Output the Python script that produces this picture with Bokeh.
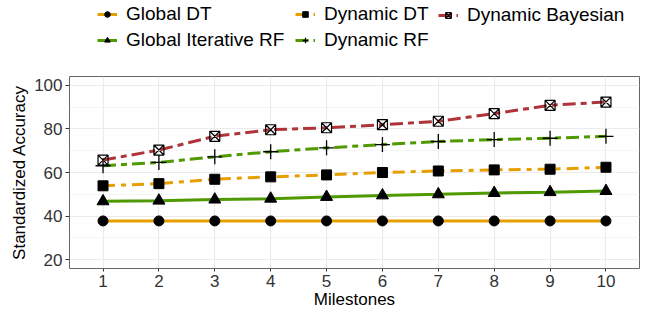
from bokeh.plotting import figure
from bokeh.models import Legend, LegendItem, FixedTicker
from bokeh.layouts import column
from bokeh.embed import file_html
from bokeh.resources import INLINE

milestones = [1, 2, 3, 4, 5, 6, 7, 8, 9, 10]
global_dt = [37.8, 37.8, 37.8, 37.8, 37.8, 37.8, 37.8, 37.8, 37.8, 37.8]
global_irf = [46.8, 47.1, 47.6, 48.0, 48.8, 49.5, 50.0, 50.6, 51.0, 51.5]
dynamic_dt = [53.9, 54.9, 56.9, 58.0, 58.9, 60.0, 60.7, 61.2, 61.5, 62.4]
dynamic_rf = [63.1, 64.6, 67.2, 69.5, 71.3, 72.8, 74.2, 75.1, 75.7, 76.6]
dynamic_bayes = [65.7, 70.3, 76.6, 79.6, 80.5, 81.9, 83.5, 87.0, 90.8, 92.3]
y_ticks = [20, 40, 60, 80, 100]
y_minor = [30, 50, 70, 90]

ORANGE = "#E69F00"
GREEN = "#4F9A00"
RED = "#AE3439"
FONT = "Liberation Sans"

series = [
    ("Global DT", global_dt, ORANGE, "solid", "circle", 10),
    ("Global Iterative RF", global_irf, GREEN, "solid", "triangle", 12),
    ("Dynamic DT", dynamic_dt, ORANGE, "12 6 5 6", "square", 10),
    ("Dynamic RF", dynamic_rf, GREEN, "13 5 6 5", "cross", 15),
    ("Dynamic Bayesian", dynamic_bayes, RED, "13 5 6 5", "square_x", 10),
]


def draw(fig, xs, ys, col, dash, marker, size):
    ln = fig.line(xs, ys, line_color=col, line_width=3, line_dash=dash)
    if marker == "cross":
        mk = fig.scatter(xs, ys, marker="cross", size=size, line_color="black", line_width=1.3)
    elif marker == "square_x":
        mk = fig.scatter(xs, ys, marker="square_x", size=size, line_color="black",
                         line_width=1.2, fill_color=None)
    else:
        mk = fig.scatter(xs, ys, marker=marker, size=size, line_color="black",
                         fill_color="black")
    return [ln, mk]


# ---------- main plot ----------
p = figure(width=654, height=256, x_range=(0.4, 10.6), y_range=(16, 104),
           output_backend="svg", toolbar_location=None,
           min_border_left=69, min_border_right=15, min_border_top=20, min_border_bottom=44)

p.background_fill_color = "white"
p.border_fill_color = "white"
p.outline_line_color = "#666666"
p.outline_line_width = 1

p.xaxis.ticker = milestones
p.yaxis.ticker = FixedTicker(ticks=y_ticks, minor_ticks=y_minor)
p.xgrid.ticker = milestones
p.xgrid.grid_line_color = "#EBEBEB"
p.xgrid.grid_line_width = 1.2
p.ygrid.grid_line_color = "#EBEBEB"
p.ygrid.grid_line_width = 1.2
p.ygrid.minor_grid_line_color = "#F2F2F2"
p.ygrid.minor_grid_line_width = 0.8

for ax in (p.xaxis, p.yaxis):
    ax.axis_line_color = None
    ax.major_tick_line_color = "#333333"
    ax.major_tick_line_width = 1
    ax.major_tick_out = 4
    ax.major_tick_in = 0
    ax.minor_tick_line_color = None
    ax.major_label_text_font = FONT
    ax.major_label_text_font_size = "17px"
    ax.major_label_text_color = "#333333"
    ax.axis_label_text_font = FONT
    ax.axis_label_text_font_size = "17px"
    ax.axis_label_text_font_style = "normal"
    ax.axis_label_text_color = "black"

p.xaxis.major_tick_out = 3
p.xaxis.major_label_standoff = 3
p.xaxis.axis_label = "Milestones"
p.xaxis.axis_label_standoff = 0
p.yaxis.major_label_standoff = 3
p.yaxis.axis_label = "Standardized Accuracy"
p.yaxis.axis_label_standoff = 2

for name, vals, col, dash, marker, size in series:
    draw(p, milestones, vals, col, dash, marker, size)

# ---------- legend strip (same series, drawn outside its visible range) ----------
lf = figure(width=654, height=56, x_range=(0.4, 10.6), y_range=(200, 201),
            output_backend="svg", toolbar_location=None,
            x_axis_location=None, y_axis_location=None,
            min_border_left=69, min_border_right=15, min_border_top=0, min_border_bottom=0)
lf.outline_line_color = None
lf.grid.visible = False
lf.background_fill_color = "white"
lf.border_fill_color = "white"

key_items = {}
for name, vals, col, dash, marker, size in series:
    key_items[name] = LegendItem(label=name,
                                 renderers=draw(lf, milestones, vals, col, dash, marker, size))

legend_columns = [
    (["Global DT", "Global Iterative RF"], 28, 5),
    (["Dynamic DT", "Dynamic RF"], 226, 5),
    (["Dynamic Bayesian"], 369, 30),
]
for names, vx, vy in legend_columns:
    lg = Legend(items=[key_items[n] for n in names], location=(vx, vy), orientation="vertical")
    lg.padding = 0
    lg.margin = 0
    lg.border_line_color = None
    lg.background_fill_alpha = 0
    lg.glyph_width = 20
    lg.glyph_height = 14
    lg.label_height = 14
    lg.label_standoff = 9
    lg.spacing = 4
    lg.label_text_font = FONT
    lg.label_text_font_size = "19px"
    lg.label_text_color = "black"
    lf.add_layout(lg, "center")

layout = column(lf, p, spacing=0)
open("out.html", "w").write(file_html(layout, INLINE))
